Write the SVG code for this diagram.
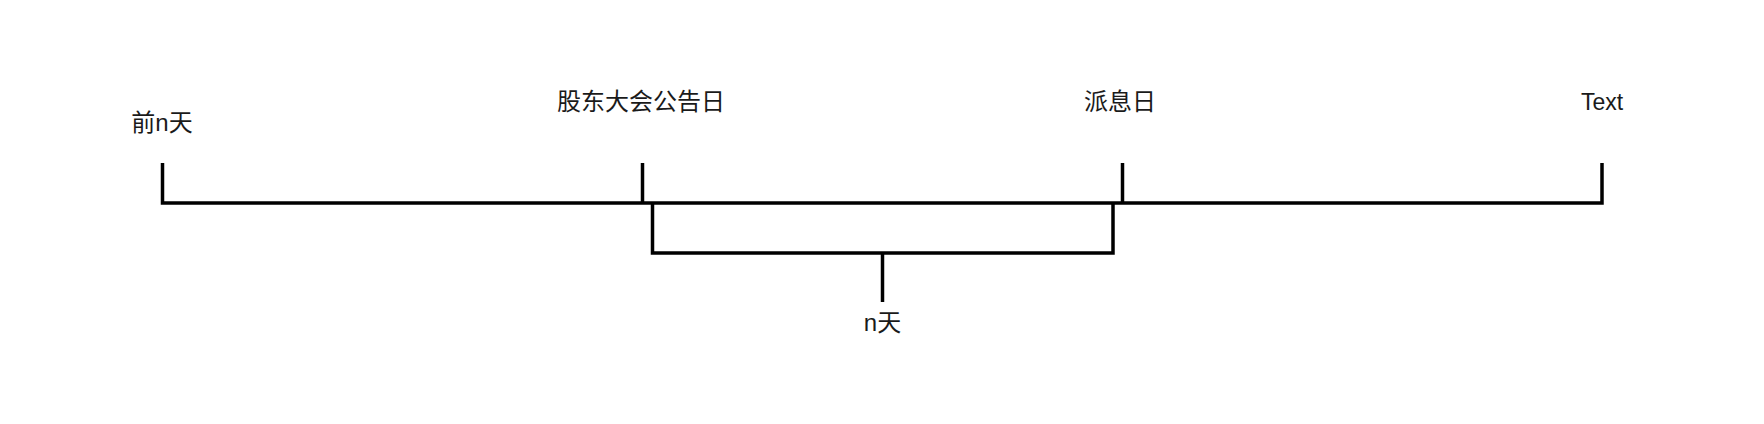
<svg xmlns="http://www.w3.org/2000/svg" width="1764" height="424" viewBox="0 0 1764 424">
<style>
.ln{fill:none;stroke:#000;stroke-width:3.5;stroke-linejoin:miter;stroke-linecap:butt}
.t{font-family:"Liberation Sans","Noto Sans CJK SC",sans-serif;font-size:24px;fill:#1a1a1a;text-anchor:middle}
.tl{font-family:"Liberation Sans",Arial,sans-serif;font-size:23px;fill:#1a1a1a;text-anchor:middle}
</style>
<rect width="1764" height="424" fill="#fff"/>
<g id="connectors">
<path class="ln" d="M162.5,163 V203 H1602 V163"/>
<path class="ln" d="M642.5,163 V203"/>
<path class="ln" d="M1122.5,163 V203"/>
<path class="ln" d="M652.5,203 V253 H1113 V203"/>
<path class="ln" d="M882.5,253 V302"/>
</g>
<g id="node-qian"><text class="t" x="162" y="131">前n天</text></g>
<g id="node-gudong"><text class="t" x="641" y="110">股东大会公告日</text></g>
<g id="node-paixi"><text class="t" x="1120" y="110">派息日</text></g>
<g id="node-text"><text class="tl" x="1602" y="109.5">Text</text></g>
<g id="node-ntian"><text class="t" x="882.5" y="331">n天</text></g>
</svg>
